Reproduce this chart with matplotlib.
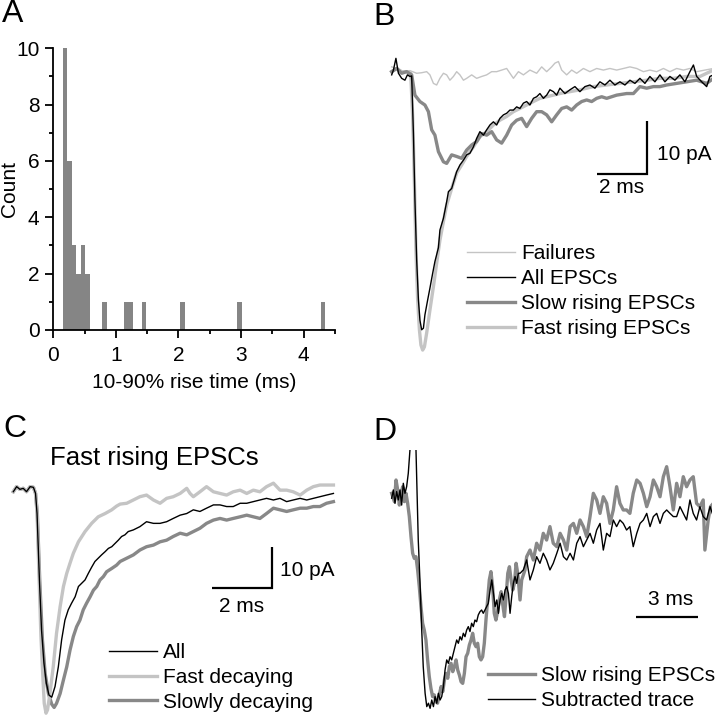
import numpy as np
import matplotlib
matplotlib.use("Agg")
import matplotlib.pyplot as plt
from matplotlib.ticker import MultipleLocator

plt.rcParams['font.family'] = ['Liberation Sans', 'DejaVu Sans']

# ---------------- Panel A: histogram of 10-90% rise times ----------------
hist_left = [0.15, 0.222, 0.294, 0.366, 0.438, 0.51, 0.78, 1.133, 1.205, 1.41, 2.03, 2.94, 4.27]
hist_count = [10, 6, 3, 2, 3, 2, 1, 1, 1, 1, 1, 1, 1]
hist_width = 0.072

# ---------------- Panel B: average traces (ms, pA) ----------------
b_fail_t = [0, 0.2, 0.47, 0.73, 1.0, 1.2, 1.4, 1.53, 1.67, 1.8, 1.93, 2.07, 2.2, 2.33, 2.47,
            2.6, 2.73, 2.87, 3.0, 3.2, 3.4, 3.6, 3.8, 4.0, 4.2, 4.4, 4.6, 4.87, 5.07, 5.27,
            5.53, 5.8, 6.0, 6.2, 6.4, 6.53, 6.67, 6.8, 7.0, 7.2, 7.4, 7.67, 7.93, 8.2, 8.47,
            8.73, 9.0, 9.27, 9.53, 9.8, 10.07, 10.33, 10.6, 10.87, 11.13, 11.4, 11.67, 11.93,
            12.2, 12.53, 12.87]
b_fail_i = [0.9, 0.6, 0, 0.2, -0.3, -0.2, 0, -0.6, -2.2, -2.5, -1.25, -0.3, -0.6, -1.6, -0.9,
            0, -0.6, -1.6, -1.25, -0.6, -1.25, -0.9, -0.6, 0, 0, 0.3, 0.6, -1.25, 0, -0.6,
            0.3, -0.3, 0.9, 0, 0.9, 1.6, 1.9, 0.3, -0.6, 0.3, -0.3, 0.6, 0, 0.6, 0.3,
            0.6, 0.3, 0.6, 0.9, 0.6, 0, 0.3, 0, 0.6, 0, 0.6, 0.3, 0.6,
            0, 0.3, 0.6]

b_all_t = [0, 0.07, 0.17, 0.27, 0.4, 0.53, 0.63, 0.73, 0.8, 0.87,
           0.93, 1.0, 1.07, 1.13, 1.2, 1.27, 1.33, 1.44, 1.53, 1.64,
           1.73, 1.87, 1.93, 2.07, 2.2, 2.27, 2.4, 2.6, 2.73, 2.87,
           3.0, 3.13, 3.27, 3.4, 3.53, 3.67, 3.8, 3.93, 4.07, 4.2,
           4.33, 4.47, 4.6, 4.73, 4.87, 5.0, 5.13, 5.27, 5.4, 5.53,
           5.67, 5.8, 5.93, 6.07, 6.2, 6.33, 6.47, 6.6, 6.73, 6.93,
           7.13, 7.33, 7.53, 7.73, 7.93, 8.13, 8.33, 8.53, 8.73, 8.93,
           9.13, 9.33, 9.53, 9.73, 9.93, 10.13, 10.33, 10.53, 10.73, 10.93,
           11.13, 11.33, 11.53, 11.73, 11.93, 12.07, 12.2, 12.4, 12.6, 12.73,
           12.87]
b_all_i = [-0.6, 0.3, 2.5, -0.3, -1.25, -1.6, -0.6, -0.9, -0.8, -11.6,
           -24, -35.3, -42.8, -46.6, -48.4, -48.1, -45.6, -42.8, -40.6, -37.8,
           -35.6, -33, -29.7, -27.5, -24.4, -22.5, -21.9, -18.75, -17.5, -16.6,
           -15.6, -15.3, -14.1, -12.5, -11.25, -11.9, -10.9, -10, -9.4, -10,
           -8.75, -8.1, -7.8, -7.2, -7.2, -6.6, -6.9, -5.9, -5.6, -6.25,
           -5, -4.7, -4.1, -5, -4.4, -3.4, -3.75, -4.4, -3.1, -4.1,
           -3.4, -2.8, -3.75, -2.8, -2.5, -3.1, -1.9, -2.5, -1.6, -2.5,
           -1.9, -2.5, -1.6, -2.2, -1.25, -2.2, -0.9, -1.9, -0.6, -1.9,
           -0.9, -1.6, -0.6, -1.9, 0, 1.25, -0.9, -1.9, -2.8, -0.9,
           -0.6]

b_fast_t = [0, 0.2, 0.4, 0.6, 0.76, 0.84, 0.91, 0.97, 1.04, 1.11,
            1.17, 1.24, 1.31, 1.4, 1.53, 1.67, 1.8, 1.93, 2.07, 2.2,
            2.4, 2.6, 2.8, 3.0, 3.27, 3.53, 3.8, 4.07, 4.33, 4.6,
            4.87, 5.13, 5.4, 5.67, 5.93, 6.2, 6.47, 6.73, 7.13, 7.53,
            8.07, 8.6, 9.13, 9.67, 10.2, 10.73, 11.27, 11.8, 12.33, 12.87]
b_fast_i = [0, 0.6, 0, 0, -0.3, -8.4, -20.9, -33.4, -42.8, -48.4,
            -51.25, -52.2, -51.6, -49, -44.7, -40.3, -35.9, -31.6, -28.1, -25,
            -21.9, -19, -17.5, -15.9, -14.1, -12.2, -11.25, -10, -9.1, -8.4,
            -7.5, -6.9, -6.25, -5.6, -5, -4.7, -4.4, -4.1, -3.75, -3.4,
            -2.8, -2.5, -2.2, -1.9, -1.6, -1.25, -1.25, -0.9, -0.9, 0.3]

b_slow_t = [0, 0.2, 0.4, 0.6, 0.8, 0.93, 1.13, 1.33, 1.47, 1.6,
            1.73, 1.87, 2.07, 2.2, 2.4, 2.6, 2.8, 3.0, 3.2, 3.4,
            3.6, 3.8, 4.0, 4.2, 4.4, 4.6, 4.8, 5.0, 5.2, 5.4,
            5.6, 5.8, 6.0, 6.2, 6.4, 6.6, 6.8, 7.0, 7.2, 7.4,
            7.6, 7.8, 8.0, 8.2, 8.4, 8.6, 9.0, 9.4, 9.67, 9.93,
            10.2, 10.47, 10.73, 11.0, 11.4, 11.8, 12.2, 12.6, 12.87]
b_slow_i = [0, 0.6, -0.3, 0, -0.6, -4.4, -5.6, -6.25, -7.5, -10.9,
            -11.9, -15, -16.9, -17.2, -15.6, -15.9, -16.25, -14.7, -13.75, -13.1,
            -11.6, -11.9, -11.25, -12.8, -13.4, -11.9, -10, -9.1, -8.75, -10.3,
            -8.75, -7.5, -7.5, -8.1, -9.4, -8.1, -6.9, -6.6, -7.2, -6.25,
            -5.6, -5.3, -5.6, -5, -4.7, -5, -4.4, -4.1, -4.1, -2.8,
            -3.1, -2.8, -2.8, -2.5, -2.2, -1.9, -1.6, -2.2, -1.25]

# ---------------- Panel C: fast rising EPSCs (ms, pA) ----------------
c_all_t = [0, 0.11, 0.22, 0.33, 0.44, 0.56, 0.67, 0.74, 0.79, 0.87,
           0.94, 1.02, 1.1, 1.19, 1.28, 1.39, 1.5, 1.61, 1.72, 1.83,
           1.94, 2.06, 2.17, 2.28, 2.39, 2.5, 2.61, 2.72, 2.83, 2.94,
           3.06, 3.17, 3.28, 3.39, 3.5, 3.61, 3.72, 3.83, 4.0, 4.22,
           4.44, 4.67, 4.89, 5.11, 5.33, 5.56, 5.78, 6.0, 6.22, 6.44,
           6.67, 6.89, 7.11, 7.33, 7.56, 7.78, 8.0, 8.22, 8.44, 8.67,
           8.89, 9.11, 9.33, 9.56, 9.78, 10.0, 10.22, 10.44, 10.67]
c_all_i = [-0.57, 0.65, 0, 0.24, -0.57, 0.65, 0.49, -0.98, -5.85, -22.1,
           -34.3, -42.4, -47.3, -50.2, -50.7, -48.1, -43.3, -36.7, -31.9, -29.4,
           -27.8, -26.2, -23.7, -22.9, -22.1, -20.5, -19, -17.6, -16.8, -16,
           -15.2, -14.4, -14, -13.2, -12.4, -11.5, -11.1, -10.3, -9.9, -9.1,
           -7.9, -8.3, -8.3, -7.9, -7.1, -6.3, -5.9, -5, -5.4, -4.6,
           -3.8, -3.8, -4.2, -4.2, -3.4, -3.4, -3, -2.6, -2.2, -2.6,
           -2.2, -3, -2.6, -2.2, -2.6, -2.2, -1.8, -1.4, -1]

c_fast_t = [0, 0.11, 0.22, 0.33, 0.44, 0.56, 0.67, 0.74, 0.79, 0.86,
            0.92, 0.99, 1.03, 1.09, 1.14, 1.22, 1.33, 1.44, 1.56, 1.67,
            1.78, 1.89, 2.0, 2.17, 2.39, 2.61, 2.83, 3.06, 3.28, 3.44,
            3.56, 3.78, 4.0, 4.22, 4.44, 4.67, 4.89, 5.11, 5.33, 5.56,
            5.78, 5.89, 6.0, 6.22, 6.44, 6.67, 6.89, 7.11, 7.33, 7.56,
            7.78, 8.0, 8.22, 8.44, 8.67, 8.89, 9.11, 9.33, 9.56, 9.78,
            10.0, 10.22, 10.44, 10.67]
c_fast_i = [-0.57, 0.65, 0, 0.24, -0.57, 0.65, 0.49, -0.98, -5.85, -22.1,
            -35.9, -46.5, -52.2, -54.6, -53.8, -49.8, -43.3, -35.1, -28.6, -23.7,
            -20.5, -18, -15.6, -12.8, -10.3, -8.3, -6.7, -5.9, -5, -4.1,
            -3.6, -3.4, -2.6, -1.8, -1.4, -2.6, -3.4, -2.2, -1.8, -1,
            0.24, -1, -1.8, -0.6, 0.65, -0.6, -1, -1.4, -0.6, -0.2,
            -1, -0.2, -0.6, 0.65, 1.5, -0.2, -0.2, -0.6, -1.4, -0.2,
            0.65, 1.05, 1.05, 1.05]

c_slow_t = [0, 0.11, 0.22, 0.33, 0.44, 0.56, 0.67, 0.74, 0.8, 0.88,
            0.97, 1.06, 1.17, 1.28, 1.36, 1.44, 1.56, 1.67, 1.78, 1.89,
            2.0, 2.11, 2.22, 2.33, 2.44, 2.56, 2.67, 2.78, 2.89, 3.0,
            3.11, 3.28, 3.44, 3.56, 3.78, 4.0, 4.22, 4.44, 4.67, 4.89,
            5.11, 5.33, 5.56, 5.78, 6.0, 6.22, 6.44, 6.67, 6.89, 7.11,
            7.33, 7.56, 7.78, 8.0, 8.22, 8.44, 8.67, 8.89, 9.11, 9.33,
            9.56, 9.78, 10.0, 10.22, 10.44, 10.67]
c_slow_i = [-0.57, 0.65, 0, 0.24, -0.57, 0.65, 0.49, -0.98, -5.85, -22.1,
            -36.7, -44.9, -49.8, -52.4, -53.2, -52.2, -49.8, -46.5, -43.3, -39.2,
            -35.9, -33.5, -31.9, -29.4, -27.8, -26.2, -24.6, -23.7, -22.1, -21.3,
            -20.1, -19.3, -18.5, -17.6, -16.8, -16, -14.8, -14, -13.6, -12.8,
            -12.4, -11.5, -10.7, -11.1, -10.3, -9.5, -8.3, -7.5, -7.1, -7.5,
            -7.1, -6.7, -6.3, -6.7, -7.1, -5.9, -4.6, -5, -5.4, -5,
            -4.6, -4.6, -4.2, -4.2, -3.4, -3]

# ---------------- Panel D: slow rising vs subtracted (ms, % of peak) ----------------
d_slow_t = [0, 0.13, 0.21, 0.29, 0.37, 0.45, 0.53, 0.61, 0.69, 0.77,
            0.85, 0.93, 1.01, 1.09, 1.17, 1.25, 1.33, 1.41, 1.49, 1.57,
            1.65, 1.73, 1.81, 1.89, 1.97, 2.05, 2.13, 2.21, 2.29, 2.38,
            2.46, 2.54, 2.62, 2.7, 2.78, 2.86, 2.94, 3.02, 3.1, 3.18,
            3.26, 3.34, 3.42, 3.5, 3.58, 3.66, 3.74, 3.82, 3.9, 3.98,
            4.06, 4.14, 4.22, 4.3, 4.38, 4.46, 4.54, 4.62, 4.7, 4.78,
            4.86, 4.94, 5.02, 5.1, 5.18, 5.27, 5.35, 5.43, 5.51, 5.59,
            5.67, 5.75, 5.83, 5.91, 5.99, 6.07,
            6.18, 6.26, 6.42, 6.5, 6.66, 6.82, 6.98, 7.14, 7.3, 7.46,
            7.62, 7.78, 7.95, 8.11, 8.27, 8.43, 8.59, 8.75, 8.91, 9.07,
            9.23, 9.39, 9.55, 9.71, 9.87, 10.03, 10.19, 10.35, 10.51, 10.67,
            10.83, 10.99, 11.15, 11.31, 11.47, 11.63, 11.8, 11.96, 12.12, 12.28,
            12.44, 12.6, 12.76, 12.92, 13.08, 13.24, 13.4, 13.56, 13.72, 13.88,
            14.04, 14.2, 14.36, 14.52, 14.68, 14.84, 15.0, 15.08, 15.24, 15.35, 15.49]
d_slow_i = [0, -3.9, 6.25, 1.6, -5.5, 0, 3.1, -3.9, 0, -4.7,
            -10.9, -20.3, -28.1, -30.5, -29.7, -35.9, -43.75, -53.1, -60.9, -64.1,
            -68.75, -78.1, -85.9, -91.4, -95.3, -94.5, -97.7, -98.4, -94.5, -90.6,
            -93, -87.5, -84.4, -86.7, -81.25, -79.7, -83.6, -81.25, -78.1, -82.8,
            -85.2, -88.3, -89.1, -84.4, -76.6, -75, -71.1, -68.75, -65.6, -70.3,
            -71.9, -70.3, -76.6, -78.1, -76.6, -70.3, -59.4, -50, -40.6, -36.7,
            -43.75, -56.25, -59.4, -55.5, -50, -46.1, -52.3, -57.8, -48.4, -37.5,
            -34.4, -40.6, -45.3, -42.2, -32.8, -37.5,
            -50, -40.6, -35.9, -29.7, -26.6, -31.25, -23.4, -26.6, -18.75, -21.9,
            -15.6, -23.4, -25, -18.75, -21.9, -26.6, -15.6, -14.1, -18.75, -12.5,
            -15.6, -20.3, -10.9, 0, -3.1, -9.4, -1.6, -4.7, -14.1, -7.8,
            3.1, -4.7, -7.8, -7.8, -9.4, 0, 6.25, 4.7, 0, -6.25,
            -1.6, 6.25, 3.1, -1.6, 7.8, 12.5, 3.1, -7.8, 4.7, -1.6,
            7.8, 3.1, 6.25, 7.8, -4.7, -6.25, -3.1, -26.6, -12.5, -6.25, -4.7]

d_sub_t = [0, 0.08, 0.16, 0.24, 0.32, 0.4, 0.48, 0.56, 0.64, 0.72,
           0.8, 0.88, 0.93, 1.12, 1.17, 1.24, 1.28, 1.36, 1.44, 1.52,
           1.61, 1.69, 1.77, 1.85, 1.93, 2.01, 2.09, 2.17, 2.25, 2.33,
           2.41, 2.49, 2.57, 2.65, 2.73, 2.81, 2.89, 2.97, 3.05, 3.13,
           3.21, 3.29, 3.37, 3.45, 3.53, 3.61, 3.69, 3.77, 3.85, 3.93,
           4.01, 4.09, 4.17, 4.25, 4.33, 4.41, 4.49, 4.57, 4.65, 4.74,
           4.82, 4.9, 4.98, 5.06, 5.14, 5.22, 5.3, 5.38, 5.46, 5.54,
           5.62, 5.7, 5.78, 5.86, 5.94, 6.02, 6.1,
           6.18, 6.34, 6.5, 6.66, 6.82, 6.98, 7.14, 7.3, 7.46, 7.62,
           7.78, 7.95, 8.11, 8.27, 8.43, 8.59, 8.75, 8.91, 9.07, 9.23,
           9.39, 9.55, 9.71, 9.87, 10.03, 10.19, 10.35, 10.51, 10.67, 10.83,
           10.99, 11.15, 11.31, 11.47, 11.63, 11.8, 11.96, 12.12, 12.28, 12.44,
           12.6, 12.76, 12.92, 13.08, 13.24, 13.4, 13.56, 13.72, 13.88, 14.04,
           14.2, 14.36, 14.52, 14.68, 14.84, 15.0, 15.16, 15.33, 15.49]
d_sub_i = [-2.3, 1.6, -4.7, 0.8, -3.1, 1.6, -5.5, 4.7, 0, 3.1,
           9.4, 20.3, 40, 40, 20.3, -6.25, -21.9, -40.6, -62.5, -81.25,
           -93.75, -100, -98.4, -100.8, -96.9, -100, -95.3, -98.4, -93.75, -96.9,
           -95.3, -90.6, -82.8, -78.1, -79.7, -76.6, -78.1, -75, -71.9, -68.75,
           -70.3, -67.2, -68.75, -65.6, -67.2, -64.1, -62.5, -64.8, -60.9, -62.5,
           -59.4, -60.2, -57, -55.5, -54.7, -56.25, -54.7, -53.1, -51.6, -45.3,
           -40.6, -46.9, -53.1, -50, -56.25, -50, -46.9, -50, -45.3, -43.75,
           -46.9, -56.25, -48.4, -42.2, -39, -42.2, -37.5,
           -37.5, -35.9, -31.25, -40.6, -35.9, -29.7, -32.8, -28.1, -31.25, -35.9,
           -32.8, -28.1, -23.4, -29.7, -31.25, -28.1, -31.25, -23.4, -20.3, -25,
           -21.9, -18.75, -23.4, -17.2, -14.1, -26.6, -18.75, -20.3, -12.5, -15.6,
           -12.5, -14.1, -17.2, -15.6, -25, -18.75, -14.1, -12.5, -9.4, -15.6,
           -10.9, -9.4, -14.1, -9.4, -7.8, -9.4, -10.9, -10.9, -6.25, -9.4,
           -12.5, -3.1, -9.4, -12.5, -6.25, -10.9, -12.5, -6.25, -10.9]

# ---------------- styling ----------------
BLACK = '#000000'
LIGHT = '#c4c4c4'
MID = '#888888'
THIN = 1.0
THICK = 2.4
FS = 15

W, H = 715, 719
fig = plt.figure(figsize=(W / 100, H / 100), dpi=100)


def px_axes(left, top, right, bottom):
    return fig.add_axes([left / W, 1 - bottom / H, (right - left) / W, (bottom - top) / H])


def trace_axes(left, top, right, bottom, x0, y0, sx, sy):
    ax = px_axes(left, top, right, bottom)
    ax.set_xlim((left - x0) / sx, (right - x0) / sx)
    ax.set_ylim((y0 - bottom) / sy, (y0 - top) / sy)
    ax.axis('off')
    return ax


def legend_at(handles, labels, left_px, top_px, hl=2.3):
    fig.legend(handles, labels, loc='upper left',
               bbox_to_anchor=(left_px / W, 1 - top_px / H),
               frameon=False, fontsize=FS, borderpad=0, borderaxespad=0,
               handlelength=hl, handletextpad=0.3, labelspacing=0.28)


# ---- Panel A ----
axA = px_axes(53.3, 48.3, 335, 330)
axA.bar(hist_left, hist_count, width=hist_width, align='edge', color='#858585',
        edgecolor='none')
axA.set_xlim(0, 4.5)
axA.set_ylim(0, 10)
axA.xaxis.set_major_locator(MultipleLocator(1))
axA.xaxis.set_minor_locator(MultipleLocator(0.5))
axA.yaxis.set_major_locator(MultipleLocator(2))
axA.yaxis.set_minor_locator(MultipleLocator(1))
for s in ['top', 'right']:
    axA.spines[s].set_visible(False)
for s in ['left', 'bottom']:
    axA.spines[s].set_linewidth(1.3)
axA.tick_params(which='major', direction='out', length=5.5, width=1.3, labelsize=FS)
axA.tick_params(which='minor', direction='out', length=3, width=1.3)
axA.tick_params(axis='x', which='major', pad=6)
axA.tick_params(axis='y', which='major', pad=4.5)
axA.set_xlabel('10-90% rise time (ms)', fontsize=FS, labelpad=6)
axA.set_ylabel('Count', fontsize=FS)
axA.yaxis.set_label_coords(-0.12, 0.5)

# ---- Panel B ----
axB = trace_axes(385, 45, 712, 355, 391.67, 71.67, 25, 5.333)
axB.plot(b_fast_t, b_fast_i, color=LIGHT, lw=THICK, label='Fast rising EPSCs', zorder=2)
axB.plot(b_slow_t, b_slow_i, color=MID, lw=THICK, label='Slow rising EPSCs', zorder=3)
axB.plot(b_fail_t, b_fail_i, color=LIGHT, lw=THIN, label='Failures', zorder=2.5)
axB.plot(b_all_t, b_all_i, color=BLACK, lw=THIN, label='All EPSCs', zorder=4)
axB.plot([10.2, 10.2, 8.2], [-9.2, -19.2, -19.2], color='black', lw=1.6,
         solid_capstyle='butt', solid_joinstyle='miter')
axB.text(10.6, -15.6, '10 pA', fontsize=FS, ha='left', va='center')
axB.text(9.2, -21.8, '2 ms', fontsize=FS, ha='center', va='center')
hB, lB = axB.get_legend_handles_labels()
orderB = ['Failures', 'All EPSCs', 'Slow rising EPSCs', 'Fast rising EPSCs']
hB = [hB[lB.index(k)] for k in orderB]
legend_at(hB, orderB, 467.3, 244.5)

# ---- Panel C ----
axC = trace_axes(5, 440, 345, 719, 13.33, 489.33, 30, 4.1)
axC.plot(c_slow_t, c_slow_i, color=MID, lw=THICK, label='Slowly decaying', zorder=2)
axC.plot(c_fast_t, c_fast_i, color=LIGHT, lw=THICK, label='Fast decaying', zorder=2.5)
axC.plot(c_all_t, c_all_i, color=BLACK, lw=THIN, label='All', zorder=3)
axC.plot([8.61, 8.61, 6.61], [-14.1, -24.1, -24.1], color='black', lw=1.6,
         solid_capstyle='butt', solid_joinstyle='miter')
axC.text(8.89, -19.7, '10 pA', fontsize=FS, ha='left', va='center')
axC.text(7.61, -28.6, '2 ms', fontsize=FS, ha='center', va='center')
axC.text(4.69, 7.6, 'Fast rising EPSCs', fontsize=18.5, ha='center', va='center')
hC, lC = axC.get_legend_handles_labels()
orderC = ['All', 'Fast decaying', 'Slowly decaying']
hC = [hC[lC.index(k)] for k in orderC]
legend_at(hC, orderC, 109, 643)

# ---- Panel D ----
axD = trace_axes(385, 450, 712, 716, 391.67, 493.33, 20.77, 2.133)
axD.plot(d_slow_t, d_slow_i, color=MID, lw=THICK, label='Slow rising EPSCs', zorder=2)
axD.plot(d_sub_t, d_sub_i, color=BLACK, lw=THIN, label='Subtracted trace', zorder=3)
axD.plot([11.76, 14.76], [-57.8, -57.8], color='black', lw=1.6, solid_capstyle='butt')
axD.text(13.45, -49.7, '3 ms', fontsize=FS, ha='center', va='center')
hD, lD = axD.get_legend_handles_labels()
legend_at(hD, lD, 488.3, 666, hl=2.25)

# ---- panel letters ----
for lab, x, y in [('A', 1.5, -1), ('B', 373, 2), ('C', 3, 414), ('D', 373, 417)]:
    fig.text(x / W, 1 - y / H, lab, fontsize=23, ha='left', va='top')

fig.savefig('out.png', dpi=100)
